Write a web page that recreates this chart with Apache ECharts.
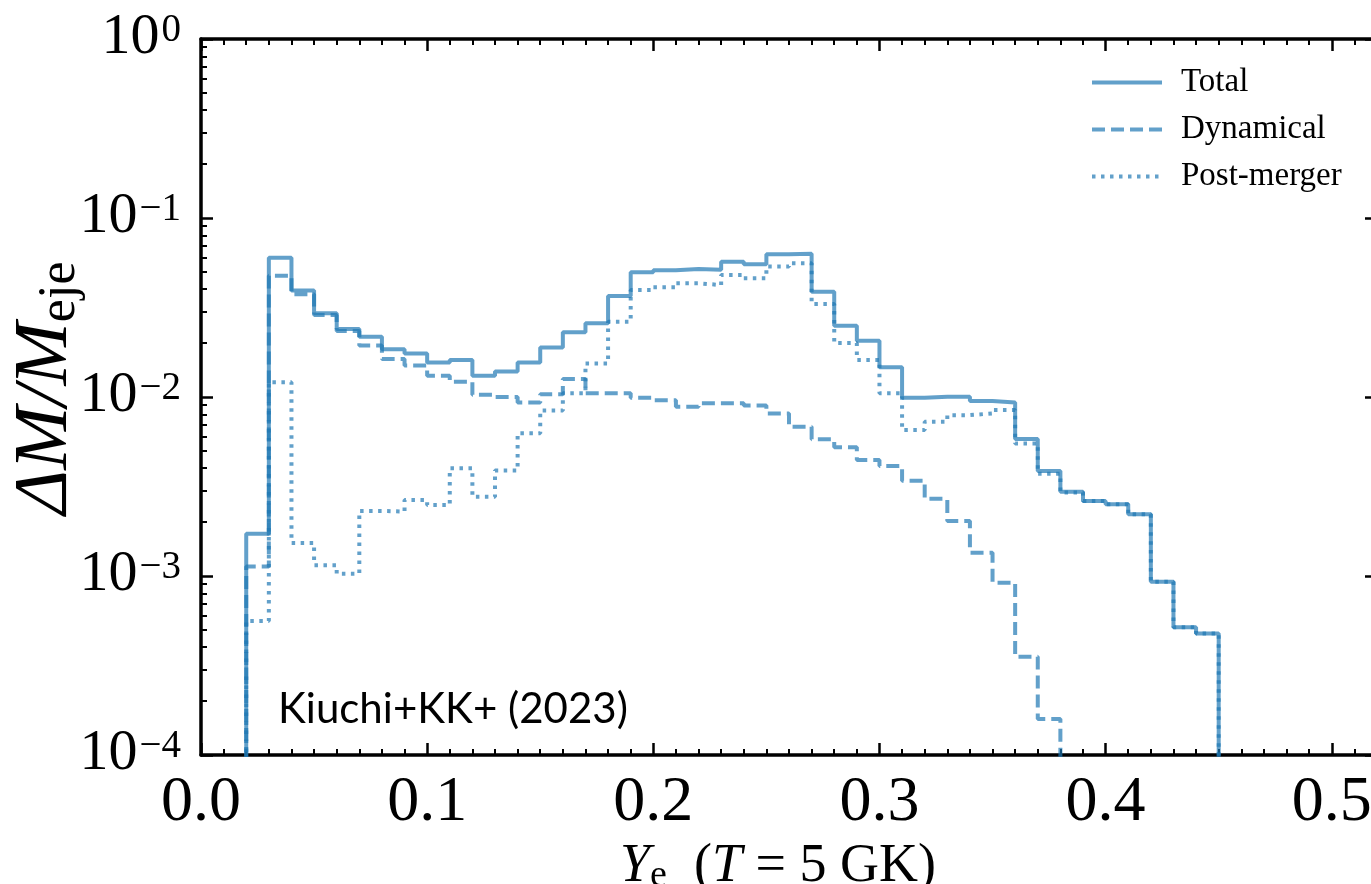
<!DOCTYPE html>
<html>
<head>
<meta charset="utf-8">
<script src="https://cdn.jsdelivr.net/npm/echarts@6/dist/echarts.min.js"></script>
<style>
html,body{margin:0;padding:0;background:#fff;}
#chart{width:1371px;height:884px;}
</style>
</head>
<body>
<div id="chart"></div>
<script>
// Bin edges (Y_e), width 0.01
var binEdges = [0.02,0.03,0.04,0.05,0.06,0.07,0.08,0.09,0.10,0.11,0.12,0.13,0.14,0.15,0.16,0.17,0.18,0.19,0.20,0.21,0.22,0.23,0.24,0.25,0.26,0.27,0.28,0.29,0.30,0.31,0.32,0.33,0.34,0.35,0.36,0.37,0.38,0.39,0.40,0.41,0.42,0.43,0.44,0.45];

// Delta M / M_eje per bin
var totalValues = [1.72e-3,0.060,0.0393,0.0294,0.0240,0.0217,0.0185,0.0175,0.0156,0.0161,0.01315,0.01386,0.0156,0.0189,0.0230,0.0258,0.0367,0.0497,0.0510,0.0519,0.0514,0.0570,0.0551,0.0627,0.0632,0.0387,0.0250,0.0206,0.01466,0.00991,0.01004,0.01004,0.0095,0.00933,0.00582,0.00386,0.00296,0.00262,0.00252,0.00221,0.00093,0.000517,0.000478];

var dynamicalValues = [1.13e-3,0.0476,0.0375,0.0287,0.0234,0.0194,0.0163,0.0150,0.01315,0.01217,0.0103,0.0100,0.00933,0.01035,0.0126,0.0105,0.0105,0.0099,0.0096,0.00883,0.00922,0.00922,0.00895,0.0081,0.00683,0.0058,0.00524,0.00445,0.00412,0.00341,0.00270,0.00203,0.00135,0.000918,0.000354,0.000159];

var postMergerValues = [5.6e-4,0.0121,1.53e-3,1.15e-3,1.03e-3,2.31e-3,2.29e-3,2.66e-3,2.49e-3,4.0e-3,2.77e-3,3.88e-3,6.27e-3,8.4e-3,0.0105,0.0154,0.0263,0.0396,0.0410,0.0432,0.0422,0.0481,0.0461,0.0535,0.0558,0.0331,0.0200,0.0161,0.0105,0.00654,0.00728,0.00792,0.0081,0.00846,0.0055,0.00372,0.00293,0.00262,0.00252,0.00221,0.00093,0.000517,0.000478];

var seriesNames = ['Total','Dynamical','Post-merger'];
var xTickLabels = ['0.0','0.1','0.2','0.3','0.4','0.5'];
var annotationText = 'Kiuchi+KK+ (2023)';

var FLOOR = 1e-7; // below the axis floor, clipped
function stepPoints(values){
  var pts = [[binEdges[0], FLOOR]];
  for (var i = 0; i < values.length; i++) pts.push([binEdges[i], values[i]]);
  pts.push([binEdges[values.length], FLOOR]);
  return pts;
}

var minorLog = [];
for (var k = -4; k < 0; k++) for (var m = 2; m <= 9; m++) minorLog.push(m * Math.pow(10, k));

var SERIF = '"Liberation Serif", "DejaVu Serif", serif';
var COLOR = '#1f77b4';

function yFmt(v){
  var e = Math.round(Math.log(v) / Math.LN10);
  var s = e < 0 ? '\u2212' + (-e) : String(e);
  return '{b|10}{s|' + s + '}';
}

var baseY = {
  type: 'log', min: 1e-4, max: 1, logBase: 10,
  splitLine: {show: false}, minorTick: {show: false}, minorSplitLine: {show: false}
};
function yAxisMajor(pos, labels){
  return Object.assign({}, baseY, {
    position: pos,
    axisLine: {show: true, lineStyle: {color: '#000', width: 3.5}},
    axisTick: {show: true, inside: true, length: 12, lineStyle: {color: '#000', width: 2.5}},
    axisLabel: labels ? {
      show: true, margin: 20, formatter: yFmt,
      rich: {
        b: {fontFamily: SERIF, fontSize: 58, color: '#000', verticalAlign: 'bottom', lineHeight: 56},
        s: {fontFamily: SERIF, fontSize: 39, color: '#000', verticalAlign: 'top', lineHeight: 38, padding: [0,0,0,2]}
      }
    } : {show: false}
  });
}
function yAxisMinor(pos){
  return Object.assign({}, baseY, {
    position: pos,
    axisLine: {show: false},
    axisTick: {show: true, inside: true, length: 6, customValues: minorLog, lineStyle: {color: '#000', width: 2}},
    axisLabel: {show: false}
  });
}

var xAxes = ['bottom','top'].map(function(pos, idx){
  return {
    type: 'value', position: pos, min: 0, max: 0.52, interval: 0.1,
    splitLine: {show: false},
    axisLine: {show: true, lineStyle: {color: '#000', width: 3.5}},
    axisTick: {show: true, inside: true, length: 12, lineStyle: {color: '#000', width: 2.5}},
    minorTick: {show: true, splitNumber: 10, length: 6, lineStyle: {color: '#000', width: 2}},
    axisLabel: idx === 0 ? {
      show: true, margin: 16, showMaxLabel: false,
      fontFamily: SERIF, fontSize: 64, color: '#000',
      formatter: function(v){ return xTickLabels[Math.round(v * 10)] || ''; }
    } : {show: false},
    name: idx === 0 ? '{i|Y}{sub|e}{r|  (}{i|T}{r| = 5 GK)}' : '',
    nameLocation: 'middle', nameGap: 84,
    nameTextStyle: {
      padding: [0, 22, 0, 0],
      rich: {
        i: {fontFamily: SERIF, fontStyle: 'italic', fontWeight: 'normal', fontSize: 54, color: '#000'},
        sub: {fontFamily: SERIF, fontWeight: 'normal', fontSize: 38, color: '#000', verticalAlign: 'bottom', padding: [18,0,0,0]},
        r: {fontFamily: SERIF, fontWeight: 'normal', fontSize: 54, color: '#000'}
      }
    }
  };
});

var yAxes = [
  yAxisMajor('left', true),
  yAxisMinor('left'),
  yAxisMajor('right', false),
  yAxisMinor('right')
];

var dashTypes = ['solid', [13, 6], [3.5, 5.5]];
var valueSets = [totalValues, dynamicalValues, postMergerValues];

var series = seriesNames.map(function(name, i){
  return {
    name: name, type: 'line', step: 'end', xAxisIndex: 0, yAxisIndex: 0,
    data: stepPoints(valueSets[i]), showSymbol: false, symbol: 'none', clip: true,
    lineStyle: {color: COLOR, width: 4, opacity: 0.7, type: dashTypes[i], cap: 'butt'},
    itemStyle: {color: COLOR, opacity: 0.7},
    emphasis: {disabled: true}, animation: false
  };
});

var chart = echarts.init(document.getElementById('chart'), null, {renderer: 'canvas'});
chart.setOption({
  backgroundColor: '#fff',
  animation: false,
  grid: {left: 201, top: 39, width: 1176, height: 716, containLabel: false, outerBoundsMode: 'none'},
  xAxis: xAxes,
  yAxis: yAxes,
  legend: {
    orient: 'vertical', left: 1085, top: 61,
    itemWidth: 70, itemHeight: 20, itemGap: 14,
    itemStyle: {opacity: 0},
    lineStyle: {width: 4},
    textStyle: {fontFamily: SERIF, fontSize: 33, color: '#000', padding: [0,0,0,14]},
    data: seriesNames
  },
  graphic: [{
    type: 'text', left: 278, top: 688,
    style: {text: annotationText, font: '42px Lato, "Open Sans", sans-serif', fill: '#000'}
  }, {
    type: 'text', x: 46, y: 388, rotation: Math.PI / 2,
    style: {
      text: '{i|\u0394M/M}{sub|eje}', align: 'center', verticalAlign: 'middle',
      rich: {
        i: {fontFamily: SERIF, fontStyle: 'italic', fontWeight: 'normal', fontSize: 76, fill: '#000'},
        sub: {fontFamily: SERIF, fontWeight: 'normal', fontSize: 52, fill: '#000', verticalAlign: 'bottom', padding: [28,0,0,0]}
      }
    }
  }],
  series: series
});
</script>
</body>
</html>
